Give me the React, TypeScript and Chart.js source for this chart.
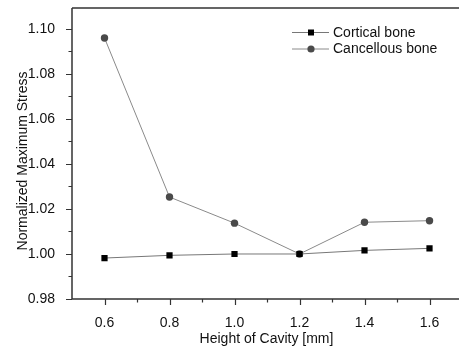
import React, { useEffect, useRef } from "react";
import { Chart, registerables } from "chart.js";

Chart.register(...registerables);

const heights = [0.6, 0.8, 1.0, 1.2, 1.4, 1.6];
const cortical = [0.9982, 0.9994, 1.0, 1.0, 1.0016, 1.0025];
const cancellous = [1.096, 1.0253, 1.0137, 1.0, 1.0141, 1.0148];
const xMajorTicks = [0.6, 0.8, 1.0, 1.2, 1.4, 1.6];
const xMinorTicks = [0.7, 0.9, 1.1, 1.3, 1.5];
const yMajorTicks = [0.98, 1.0, 1.02, 1.04, 1.06, 1.08, 1.1];
const yMinorTicks = [0.99, 1.01, 1.03, 1.05, 1.07, 1.09];
const seriesNames = ["Cortical bone", "Cancellous bone"];
const xTitle = "Height of Cavity [mm]";
const yTitle = "Normalized Maximum Stress";

const FONT = "'Liberation Sans', Arial, sans-serif";
const AXIS_COLOR = "#333";

const decorPlugin = {
  id: "decor",
  afterDraw(chart: any) {
    const ctx = chart.ctx;
    const { left, top, bottom } = chart.chartArea;
    const right = chart.width;
    const xs = chart.scales.x;
    const ys = chart.scales.y;
    ctx.save();
    ctx.strokeStyle = AXIS_COLOR;
    ctx.lineWidth = 1.5;
    ctx.beginPath();
    ctx.moveTo(left, top);
    ctx.lineTo(right, top);
    ctx.moveTo(left, top);
    ctx.lineTo(left, bottom);
    ctx.lineTo(right, bottom);
    ctx.stroke();
    ctx.lineWidth = 1.2;
    ctx.beginPath();
    xMajorTicks.forEach((v) => {
      const px = Math.round(xs.getPixelForValue(v)) + 0.5;
      ctx.moveTo(px, bottom);
      ctx.lineTo(px, bottom + 6);
    });
    xMinorTicks.forEach((v) => {
      const px = Math.round(xs.getPixelForValue(v)) + 0.5;
      ctx.moveTo(px, bottom);
      ctx.lineTo(px, bottom + 3.5);
    });
    yMajorTicks.forEach((v) => {
      const py = Math.round(ys.getPixelForValue(v)) + 0.5;
      ctx.moveTo(left, py);
      ctx.lineTo(left - 6, py);
    });
    yMinorTicks.forEach((v) => {
      const py = Math.round(ys.getPixelForValue(v)) + 0.5;
      ctx.moveTo(left, py);
      ctx.lineTo(left - 3.5, py);
    });
    ctx.stroke();

    // axis titles
    ctx.fillStyle = "#111";
    ctx.font = `14px ${FONT}`;
    ctx.textAlign = "center";
    ctx.textBaseline = "middle";
    ctx.fillText(xTitle, (left + right) / 2 + 1, 339);
    ctx.save();
    ctx.translate(23, 161);
    ctx.rotate(-Math.PI / 2);
    ctx.fillText(yTitle, 0, 0);
    ctx.restore();

    // legend
    const rows = [
      { y: 32, ds: chart.data.datasets[0] },
      { y: 48.5, ds: chart.data.datasets[1] },
    ];
    rows.forEach((r, i) => {
      ctx.strokeStyle = r.ds.borderColor;
      ctx.lineWidth = 1;
      ctx.beginPath();
      ctx.moveTo(292, r.y + 0.5);
      ctx.lineTo(329, r.y + 0.5);
      ctx.stroke();
      ctx.fillStyle = r.ds.pointBackgroundColor;
      if (i === 0) {
        ctx.fillRect(311 - 3, r.y + 0.5 - 3, 6, 6);
      } else {
        ctx.beginPath();
        ctx.arc(311, r.y + 0.5, 3.6, 0, Math.PI * 2);
        ctx.fill();
      }
      ctx.fillStyle = "#111";
      ctx.textAlign = "left";
      ctx.textBaseline = "middle";
      ctx.font = `14px ${FONT}`;
      ctx.fillText(seriesNames[i], 333, r.y + 1);
    });
    ctx.restore();
  },
};

export default function App() {
  const ref = useRef<HTMLCanvasElement>(null);
  useEffect(() => {
    if (!ref.current) return;
    const chart = new Chart(ref.current, {
      type: "line",
      data: {
        datasets: [
          {
            label: seriesNames[0],
            data: heights.map((h, i) => ({ x: h, y: cortical[i] })),
            borderColor: "#777",
            borderWidth: 1,
            pointStyle: "rect",
            pointRadius: 4.4,
            pointBackgroundColor: "#000",
            pointBorderWidth: 0,
            pointBorderColor: "#000",
            tension: 0,
          },
          {
            label: seriesNames[1],
            data: heights.map((h, i) => ({ x: h, y: cancellous[i] })),
            borderColor: "#8a8a8a",
            borderWidth: 1,
            pointStyle: "circle",
            pointRadius: 3.7,
            pointBackgroundColor: "#4a4a4a",
            pointBorderWidth: 0,
            pointBorderColor: "#4a4a4a",
            tension: 0,
          },
        ],
      },
      options: {
        animation: false,
        responsive: false,
        layout: { padding: { top: 8, right: 0, left: 0, bottom: 0 } },
        plugins: { legend: { display: false }, tooltip: { enabled: false } },
        scales: {
          x: {
            type: "linear",
            min: 0.5,
            max: 1.6772,
            grid: { display: false },
            border: { display: false },
            afterBuildTicks: (s: any) => {
              s.ticks = xMajorTicks.map((v) => ({ value: v }));
            },
            afterFit: (s: any) => {
              s.height = 47;
              s.paddingLeft = 0;
              s.paddingRight = 0;
            },
            ticks: {
              padding: 8,
              color: "#111",
              font: { family: FONT, size: 14 },
              callback: (v: any) => Number(v).toFixed(1),
              maxRotation: 0,
            },
          },
          y: {
            type: "linear",
            min: 0.98,
            max: 1.1093,
            grid: { display: false },
            border: { display: false },
            afterBuildTicks: (s: any) => {
              s.ticks = yMajorTicks.map((v) => ({ value: v }));
            },
            afterFit: (s: any) => {
              s.width = 72;
              s.paddingTop = 0;
              s.paddingBottom = 0;
            },
            ticks: {
              padding: 9,
              color: "#111",
              font: { family: FONT, size: 14 },
              callback: (v: any) => Number(v).toFixed(2),
            },
          },
        },
      },
      plugins: [decorPlugin],
    });
    return () => chart.destroy();
  }, []);
  return (
    <div style={{ position: "absolute", left: 0, top: 0, width: 459, height: 346, background: "#fff" }}>
      <canvas ref={ref} width={459} height={346} />
    </div>
  );
}
